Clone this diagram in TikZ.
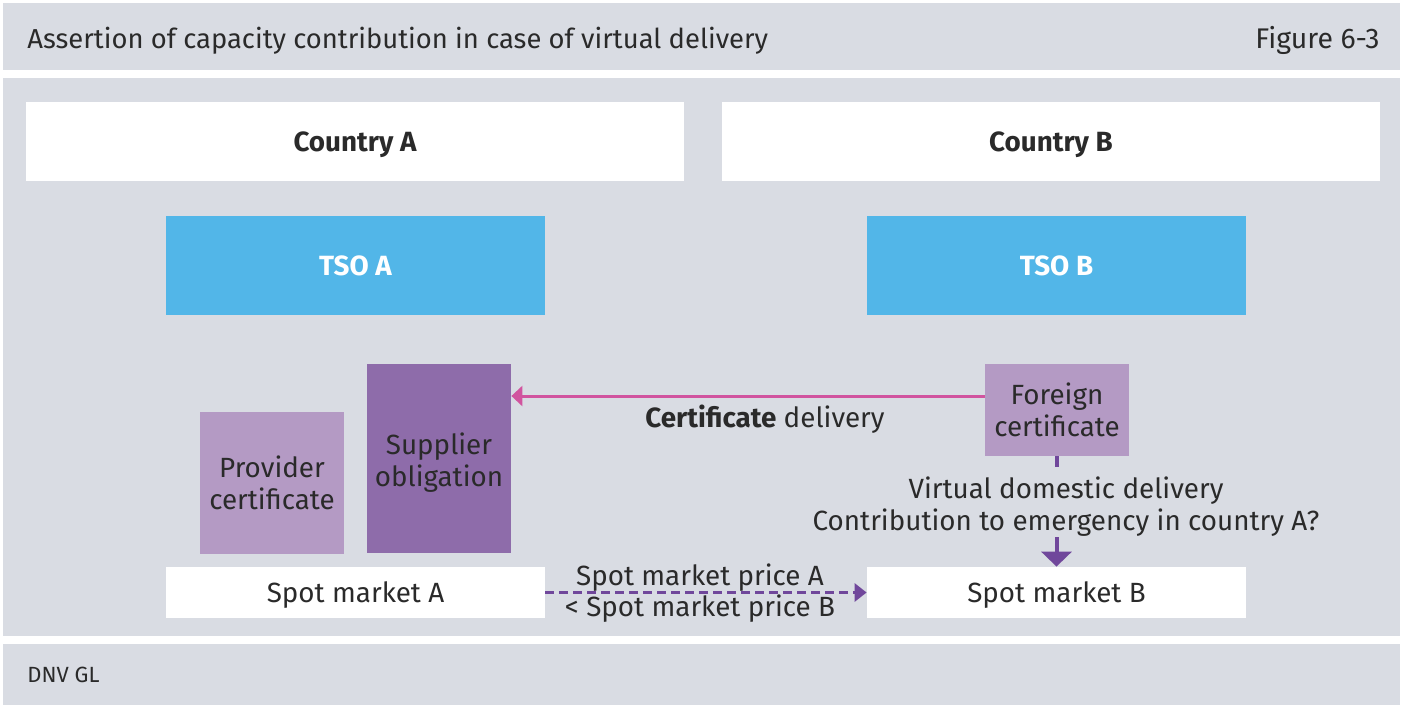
\documentclass[tikz,border=0pt]{standalone}
\usepackage{fontspec}
\setmainfont{Fira Sans}
\usetikzlibrary{arrows.meta}
\definecolor{panel}{HTML}{D9DCE3}
\definecolor{tsoblue}{HTML}{52B6E8}
\definecolor{lpurple}{HTML}{B49AC4}
\definecolor{dpurple}{HTML}{8E6CAA}
\definecolor{pinkarr}{HTML}{D1549F}
\definecolor{purarr}{HTML}{70479B}
\definecolor{txt}{HTML}{2A2A2A}
\tikzset{
  bodyfont/.style={font=\fontsize{13.9}{16}\selectfont},
  box/.style={draw=none, inner sep=0pt, align=center, text=txt, bodyfont},
  onel/.style={text height=10pt, text depth=0pt},
  whitebox/.style={box, fill=white},
  tsobox/.style={box, onel, fill=tsoblue, text=white, font=\fontsize{13.9}{16}\selectfont\bfseries},
  lbox/.style={box, fill=lpurple},
  dbox/.style={box, fill=dpurple},
  lbl/.style={inner sep=0pt, align=center, text=txt, bodyfont},
}
\begin{document}
\begin{tikzpicture}[x=0.5pt, y=-0.5pt]
\useasboundingbox (0,0) rectangle (1403,707);
\fill[white] (0,0) rectangle (1403,707);
\fill[panel] (3,3) rectangle (1400,70);
\fill[panel] (3,78) rectangle (1400,636);
\fill[panel] (3,644) rectangle (1400,705);
\node[lbl, anchor=base west, font=\fontsize{13.7}{16}\selectfont] (title) at (27,48) {Assertion of capacity contribution in case of virtual delivery};
\node[lbl, anchor=base east, font=\fontsize{14.2}{16}\selectfont] (fig) at (1380,48) {Figure 6-3};
\node[lbl, anchor=base west, font=\fontsize{11}{13}\selectfont] (dnv) at (27,682) {DNV GL};

\node[whitebox, onel, minimum width=329pt, minimum height=39.5pt, font=\fontsize{13.9}{16}\selectfont\bfseries] (cA) at (355,141.5) {Country A};
\node[whitebox, onel, minimum width=329pt, minimum height=39.5pt, font=\fontsize{13.9}{16}\selectfont\bfseries] (cB) at (1051,141.5) {Country B};
\node[tsobox, minimum width=189.5pt, minimum height=49.5pt] (tsoA) at (355.5,265.5) {TSO A};
\node[tsobox, minimum width=189.5pt, minimum height=49.5pt] (tsoB) at (1056.5,265.5) {TSO B};
\node[lbox, minimum width=72pt, minimum height=71pt] (prov) at (272,483) {Provider\\certificate};
\node[dbox, minimum width=72pt, minimum height=94.5pt] (supp) at (439,458.5) {};
\node[lbl] (supptxt) at (439,462.5) {Supplier\\obligation};
\node[lbox, minimum width=72pt, minimum height=46pt] (fc) at (1057,410) {Foreign\\certificate};
\node[whitebox, onel, minimum width=189.5pt, minimum height=25.5pt] (smA) at (355.5,592.5) {Spot market A};
\node[whitebox, onel, minimum width=189.5pt, minimum height=25.5pt] (smB) at (1056.5,592.5) {Spot market B};

\coordinate (arrowy) at (0,396);
\draw[pinkarr, line width=1.5pt, -{Triangle[length=5.5pt, width=10pt]}] (fc.west |- arrowy) -- (supp.east |- arrowy);
\node[lbl, anchor=base] (cd) at (765,427) {\textbf{Certificate} delivery};

\node[lbl] (vdd) at (1066,506.5) {Virtual domestic delivery\\Contribution to emergency in country A?};
\draw[purarr, line width=2pt] (fc.south) -- (fc.south |- 0,467);
\draw[purarr, line width=2pt, -{Triangle[length=7.5pt, width=15pt]}] (smB.north |- 0,537) -- (smB.north);

\draw[purarr, line width=1.5pt, dash pattern=on 4.5pt off 2.5pt, -{Triangle[length=6pt, width=9pt]}] (smA.east) -- (smB.west);
\node[lbl, anchor=base] (p1) at (700,585) {Spot market price A};
\node[lbl, anchor=base] (p2) at (700,616) {< Spot market price B};
\end{tikzpicture}
\end{document}
